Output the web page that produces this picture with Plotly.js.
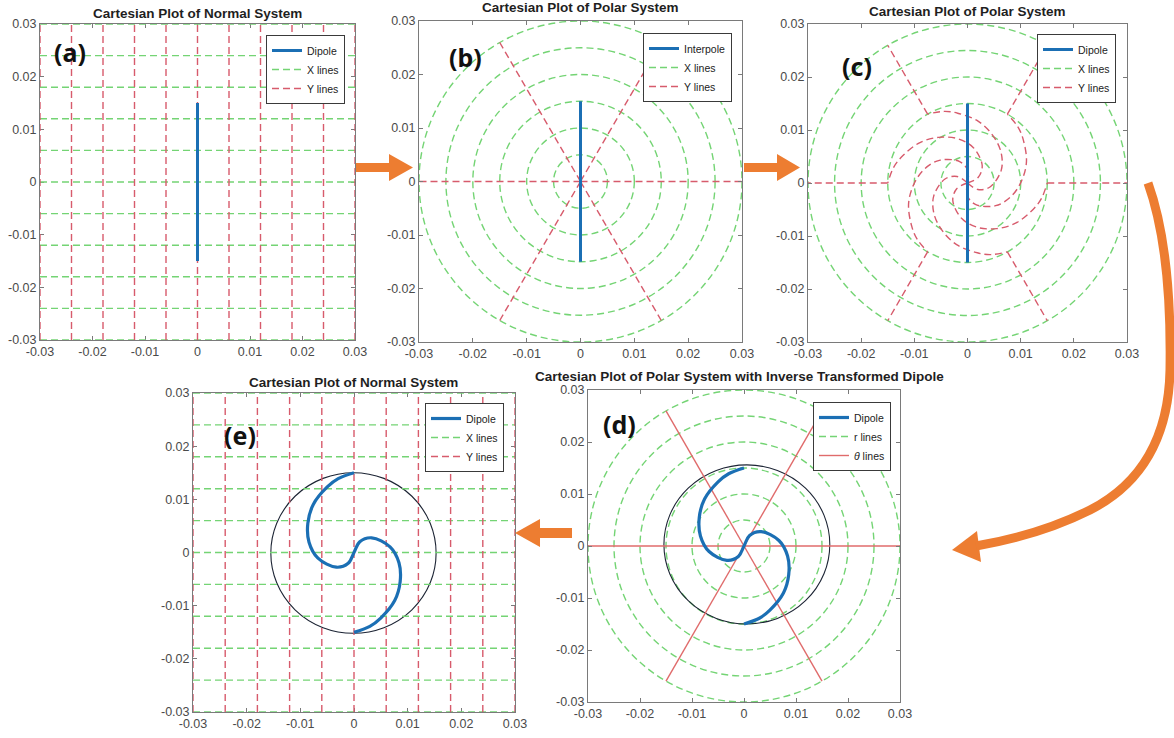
<!DOCTYPE html>
<html><head><meta charset="utf-8">
<script src="https://cdn.plot.ly/plotly-3.0.1.min.js"></script>
<style>html,body{margin:0;padding:0;background:#fff}#chart{width:1174px;height:738px}</style>
</head><body><div id="chart"></div>
<script>
// ---------- data ----------
const tickValues = [-0.03, -0.02, -0.01, 0, 0.01, 0.02, 0.03];
const tickLabels = ['-0.03', '-0.02', '-0.01', '0', '0.01', '0.02', '0.03'];
const gridLines = [-0.03, -0.024, -0.018, -0.012, -0.006, 0, 0.006, 0.012, 0.018, 0.024, 0.03];
const ringRadii = [0.005, 0.01, 0.015, 0.02, 0.025, 0.03];
const spokeAngles = [0, 60, 120, 180, 240, 300];
const spokeLength = [0.03];
const dipoleEnds = [-0.015, 0.015];
// swirl twist (degrees) observed at radius r (inside r = 0.015 only)
const swirlR = [0, 0.0023, 0.0043, 0.0068, 0.0086, 0.0102, 0.0118, 0.0133, 0.0142, 0.015];
const swirlDeg = [180, 152, 130, 99, 77, 57.5, 40, 22, 12, 0];
// hand-drawn outline circles: [xmin, xmax, ymin, ymax]
const outlineD = [-0.0154, 0.0165, -0.015, 0.0156];
const outlineE = [-0.0155, 0.0153, -0.0152, 0.015];
const panelLabels = ['(a)', '(b)', '(c)', '(d)', '(e)'];
const panelTitles = ['Cartesian Plot of Normal System', 'Cartesian Plot of Polar System',
  'Cartesian Plot of Polar System', 'Cartesian Plot of Polar System with Inverse Transformed Dipole',
  'Cartesian Plot of Normal System'];
const legendNames = {
  a: ['Dipole', 'X lines', 'Y lines'],
  b: ['Interpole', 'X lines', 'Y lines'],
  c: ['Dipole', 'X lines', 'Y lines'],
  d: ['Dipole', 'r lines', '<i>θ</i> lines'],
  e: ['Dipole', 'X lines', 'Y lines']
};

// ---------- styling ----------
const W = 1174, H = 738;
const FONT = 'Liberation Sans, Arial, Helvetica, sans-serif';
const BLUE = '#1b6fb4', GREEN = '#74d474', RED = '#d75b6c', THETA = '#e06b6b',
      ORANGE = '#ED7D31', OUTLINE = '#1c2434', AXIS = '#7a7a7a';
const DASH = '7px,4px';

const px = (x) => x / W, py = (y) => 1 - y / H;
const rad = (d) => d * Math.PI / 180;
const polar = (r, deg) => [r * Math.cos(rad(deg)), r * Math.sin(rad(deg))];

// subplot frames in pixels [left, right, top, bottom]
const frames = {
  a: [40, 355, 24, 340],
  b: [419, 742, 21, 342],
  c: [808, 1127, 24, 342],
  d: [588, 900, 390, 702],
  e: [193, 515, 393, 712]
};
const axIds = {a: ['x', 'y'], b: ['x2', 'y2'], c: ['x3', 'y3'], d: ['x4', 'y4'], e: ['x5', 'y5']};
const legIds = {a: 'legend', b: 'legend2', c: 'legend3', d: 'legend4', e: 'legend5'};
const legPos = {a: [345, 35], b: [732, 33], c: [1116, 34], d: [891, 402], e: [504, 403]};

const traces = [];
const shapes = [];

function lineTrace(k, xs, ys, name, color, width, dash, rank, showleg, shape) {
  return {
    type: 'scatter', mode: 'lines', x: xs, y: ys, xaxis: axIds[k][0], yaxis: axIds[k][1],
    name: name, legend: legIds[k], legendrank: rank, showlegend: showleg,
    line: {color: color, width: width, dash: dash || 'solid', shape: shape || 'linear', smoothing: 1},
    hoverinfo: 'skip', connectgaps: false
  };
}

// Cartesian grid (a), (e)
function cartGrid(k) {
  const lo = gridLines[0], hi = gridLines[gridLines.length - 1];
  const hx = [], hy = [], vx = [], vy = [];
  gridLines.forEach(v => { hx.push(lo, hi, null); hy.push(v, v, null); vx.push(v, v, null); vy.push(lo, hi, null); });
  traces.push(lineTrace(k, hx, hy, legendNames[k][1], GREEN, 1.4, DASH, 2, true));
  traces.push(lineTrace(k, vx, vy, legendNames[k][2], RED, 1.4, DASH, 3, true));
}

// rings as circle shapes + legend entry
function rings(k) {
  ringRadii.forEach(r => shapes.push({
    type: 'circle', xref: axIds[k][0], yref: axIds[k][1], x0: -r, x1: r, y0: -r, y1: r,
    line: {color: GREEN, width: 1.4, dash: DASH}, layer: 'below'
  }));
  traces.push(lineTrace(k, [null], [null], legendNames[k][1], GREEN, 1.4, DASH, 2, true));
}

function spokes(k, color, dash) {
  const xs = [], ys = [];
  spokeAngles.forEach(a => { const p = polar(spokeLength[0], a); xs.push(0, p[0], null); ys.push(0, p[1], null); });
  traces.push(lineTrace(k, xs, ys, legendNames[k][2], color, 1.4, dash, 3, true));
}

function swirlSpokes(k) {
  const xs = [], ys = [];
  const rIn = swirlR[swirlR.length - 1];
  spokeAngles.forEach(a => {
    swirlR.forEach((r, i) => { const p = polar(r, a - swirlDeg[i]); xs.push(p[0]); ys.push(p[1]); });
    xs.push(null); ys.push(null);
    const p1 = polar(rIn, a), p2 = polar(spokeLength[0], a);
    xs.push(p1[0], p2[0], null); ys.push(p1[1], p2[1], null);
  });
  traces.push(lineTrace(k, xs, ys, legendNames[k][2], RED, 1.4, DASH, 3, true, 'spline'));
}

function straightDipole(k) {
  traces.push(lineTrace(k, [0, 0], dipoleEnds, legendNames[k][0], BLUE, 3, 'solid', 1, true));
}

function swirledDipole(k) {
  const xs = [], ys = [];
  for (let i = swirlR.length - 1; i >= 0; i--) { const p = polar(swirlR[i], 90 + swirlDeg[i]); xs.push(p[0]); ys.push(p[1]); }
  for (let i = 1; i < swirlR.length; i++) { const p = polar(swirlR[i], 270 + swirlDeg[i]); xs.push(p[0]); ys.push(p[1]); }
  traces.push(lineTrace(k, xs, ys, legendNames[k][0], BLUE, 3.2, 'solid', 1, true, 'spline'));
}

function outline(k, b) {
  shapes.push({type: 'circle', xref: axIds[k][0], yref: axIds[k][1], x0: b[0], x1: b[1], y0: b[2], y1: b[3],
    line: {color: OUTLINE, width: 1.1}, layer: 'below'});
}

// (a)
cartGrid('a'); straightDipole('a');
// (b)
rings('b'); spokes('b', RED, DASH); straightDipole('b');
// (c)
rings('c'); swirlSpokes('c'); straightDipole('c');
// (d)
rings('d'); spokes('d', THETA, 'solid'); outline('d', outlineD); swirledDipole('d');
// (e)
cartGrid('e'); outline('e', outlineE); swirledDipole('e');

// ---------- layout ----------
const layout = {
  width: W, height: H, margin: {l: 0, r: 0, t: 0, b: 0},
  paper_bgcolor: '#fff', plot_bgcolor: '#fff', font: {family: FONT, color: '#333'},
  showlegend: true, shapes: shapes, annotations: []
};

Object.keys(frames).forEach((k, idx) => {
  const f = frames[k];
  const xn = axIds[k][0], yn = axIds[k][1];
  const xk = xn === 'x' ? 'xaxis' : 'xaxis' + xn.slice(1);
  const yk = yn === 'y' ? 'yaxis' : 'yaxis' + yn.slice(1);
  const common = {
    range: [tickValues[0], tickValues[tickValues.length - 1]], tickmode: 'array',
    tickvals: tickValues, ticktext: tickLabels, ticks: 'inside', ticklen: 4, tickcolor: AXIS,
    showline: true, mirror: 'ticks', linecolor: AXIS, linewidth: 1, showgrid: false, zeroline: false,
    tickfont: {size: 12.5, color: '#4a4a4a', family: FONT}, fixedrange: true,
    layer: (k === 'a' || k === 'e') ? 'below traces' : 'above traces'
  };
  layout[xk] = Object.assign({}, common, {domain: [px(f[0]), px(f[1])], anchor: yn});
  layout[yk] = Object.assign({}, common, {domain: [py(f[3]), py(f[2])], anchor: xn});
  const lp = legPos[k];
  layout[legIds[k]] = {
    x: px(lp[0]), y: py(lp[1]), xanchor: 'right', yanchor: 'top',
    bgcolor: '#ffffff', bordercolor: '#3a3a3a', borderwidth: 1,
    font: {size: 10.5, color: '#222', family: FONT}, itemwidth: 30, tracegroupgap: 0
  };
});

// titles
const titlePos = [[197, 13], [580, 8], [967, 12], [739, 376], [353, 382]];
panelTitles.forEach((t, i) => layout.annotations.push({
  text: '<b>' + t + '</b>', xref: 'paper', yref: 'paper', x: px(titlePos[i][0]), y: py(titlePos[i][1]),
  xanchor: 'center', yanchor: 'middle', showarrow: false, font: {size: 13.5, color: '#1f1f1f', family: FONT}
}));
// panel letters
const labelPos = [[70, 52], [466, 57], [857, 66], [619, 424], [240, 435]];
panelLabels.forEach((t, i) => layout.annotations.push({
  text: '<b>' + t + '</b>', xref: 'paper', yref: 'paper', x: px(labelPos[i][0]), y: py(labelPos[i][1]),
  xanchor: 'center', yanchor: 'middle', showarrow: false, font: {size: 25, color: '#111', family: 'Noto Sans, Lato, sans-serif'}
}));

// orange flow arrows (decoration, in pixel -> paper coordinates)
function pathFrom(cmds) {
  return cmds.map(c => c[0] + (c.length > 1 ? ' ' + c.slice(1).map((v, j) => (j % 2 === 0 ? px(v) : py(v)).toFixed(5)).join(',') : '')).join(' ');
}
const arrowPolys = [
  [['M', 356, 163], ['L', 389, 163], ['L', 389, 154], ['L', 413, 167.5], ['L', 389, 181], ['L', 389, 172], ['L', 356, 172], ['Z']],
  [['M', 744, 163], ['L', 777, 163], ['L', 777, 154], ['L', 800, 167.5], ['L', 777, 181], ['L', 777, 172], ['L', 744, 172], ['Z']],
  [['M', 572, 528], ['L', 540, 528], ['L', 540, 519], ['L', 515, 533], ['L', 540, 547], ['L', 540, 538], ['L', 572, 538], ['Z']],
  [['M', 952, 550], ['L', 977, 531], ['L', 981, 562], ['Z']]
];
arrowPolys.forEach(p => shapes.push({type: 'path', xref: 'paper', yref: 'paper', path: pathFrom(p),
  fillcolor: ORANGE, line: {width: 0}, layer: 'above'}));
shapes.push({type: 'path', xref: 'paper', yref: 'paper',
  path: pathFrom([['M', 1148, 183], ['Q', 1172, 250, 1170, 370], ['Q', 1168, 470, 1090, 510], ['Q', 1040, 535, 976, 546]]),
  fillcolor: 'rgba(0,0,0,0)', line: {color: ORANGE, width: 9}, layer: 'above'});

Plotly.newPlot('chart', traces, layout, {staticPlot: true, displayModeBar: false});
</script>
</body></html>
